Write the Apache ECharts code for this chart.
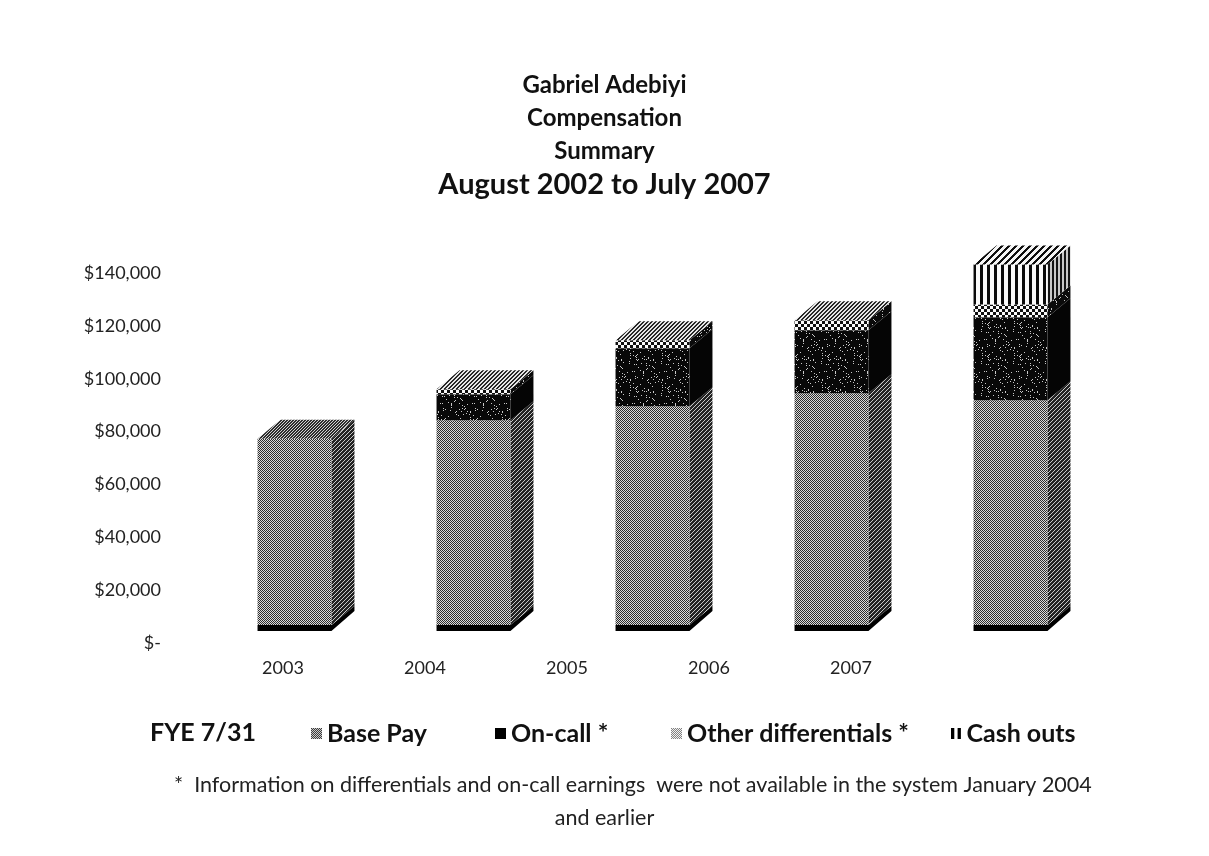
<!DOCTYPE html>
<html>
<head>
<meta charset="utf-8">
<script src="https://cdn.jsdelivr.net/npm/echarts@6/dist/echarts.min.js"></script>
<style>
  html, body { margin: 0; padding: 0; background: #fff; }
  #chart { width: 1209px; height: 856px; }
</style>
</head>
<body>
<div id="chart"></div>
<script>
// Fiscal years (FYE 7/31) and compensation components, in dollars
const years = ['2003', '2004', '2005', '2006', '2007'];
const basePay = [70500, 77500, 82800, 87700, 85000];
const onCall = [0, 9800, 21900, 23800, 31400];
const otherDifferentials = [0, 1900, 3000, 3800, 4900];
const cashOuts = [0, 0, 0, 0, 15100];
const seriesNames = ['Base Pay', 'On-call *', 'Other differentials *', 'Cash outs'];
const axisMax = 140000;
const axisStep = 20000;

const FONT = 'Lato, "Open Sans", sans-serif';
const stack = [basePay, onCall, otherDifferentials, cashOuts];

// 3D look: depth offset of the back face and lift of the bar plane above the floor edge
const DX = 23, DY = 19, LIFT = 18;

// ---- bitmap fills -------------------------------------------------------
function bitmap(w, h, fn) {
  const c = document.createElement('canvas');
  c.width = w; c.height = h;
  const ctx = c.getContext('2d');
  const img = ctx.createImageData(w, h);
  for (let y = 0; y < h; y++) {
    for (let x = 0; x < w; x++) {
      const v = fn(x, y);
      const k = (y * w + x) * 4;
      img.data[k] = img.data[k + 1] = img.data[k + 2] = v;
      img.data[k + 3] = 255;
    }
  }
  ctx.putImageData(img, 0, 0);
  return { image: c, repeat: 'repeat' };
}
function hash(x, y) {
  let h = (x * 374761393 + y * 668265263) | 0;
  h = (h ^ (h >>> 13)) * 1274126177 | 0;
  return ((h ^ (h >>> 16)) >>> 0) % 100;
}
const fills = {
  baseFront: bitmap(4, 4, (x, y) => ((x + y) % 2 === 0 ? 45 : 220)),
  baseSide: bitmap(4, 4, (x, y) => ((x + y) % 4 === 0 ? 200 : 35)),
  baseTop: bitmap(3, 3, (x, y) => ((x + y) % 3 === 0 ? 210 : 45)),
  onCallFront: bitmap(32, 32, (x, y) => (hash(x, y) < 7 ? 200 : 8)),
  onCallSide: bitmap(4, 4, () => 5),
  otherFront: bitmap(6, 6, (x, y) => {
    const a = (Math.floor(x / 3) + Math.floor(y / 3)) % 2 === 0;
    return a ? 250 : 15;
  }),
  otherSide: bitmap(24, 24, (x, y) => (hash(x + 3, y + 7) < 6 ? 190 : 10)),
  otherTop: bitmap(4, 4, (x, y) => ((x + y) % 4 < 2 ? 40 : 230)),
  cashFront: bitmap(7, 1, (x) => (x % 7 < 3 ? 10 : 250)),
  cashSide: bitmap(4, 1, (x) => (x % 4 < 2 ? 20 : 200)),
  cashTop: bitmap(7, 7, (x, y) => ((x + y) % 7 < 3 ? 15 : 245)),
  legendBase: bitmap(2, 2, (x, y) => ((x + y) % 2 === 0 ? 60 : 200)),
  legendOther: bitmap(2, 2, (x, y) => ((x + y) % 2 === 0 ? 130 : 240))
};
const faceFills = [
  { front: fills.baseFront, side: fills.baseSide, top: fills.baseTop },
  { front: fills.onCallFront, side: fills.onCallSide, top: fills.onCallFront },
  { front: fills.otherFront, side: fills.otherSide, top: fills.otherTop },
  { front: fills.cashFront, side: fills.cashSide, top: fills.cashTop }
];

function topSeriesOf(i) {
  let top = -1;
  stack.forEach((vals, s) => { if (vals[i] > 0) top = s; });
  return top;
}

function makeRender(s) {
  return function (params, api) {
    const i = api.value(0);
    const val = stack[s][i];
    if (!(val > 0)) return null;
    let lower = 0;
    for (let k = 0; k < s; k++) lower += stack[k][i];
    const upper = lower + val;
    const pLow = api.coord([i, lower]);
    const pHigh = api.coord([i, upper]);
    const w = api.size([1, 0])[0] * 0.413;
    const xl = pLow[0] - w / 2, xr = pLow[0] + w / 2;
    const yb = pLow[1] - LIFT, yt = pHigh[1] - LIFT;
    const f = faceFills[s];
    const children = [];
    if (s === 0) {
      children.push({
        type: 'polygon',
        shape: { points: [[xl, yb], [xr, yb], [xr + DX, yb - DY], [xr + DX, yb - DY + 5], [xr, yb + 6], [xl, yb + 6]] },
        style: { fill: '#000' }
      });
    }
    children.push({
      type: 'polygon',
      shape: { points: [[xr, yb], [xr + DX, yb - DY], [xr + DX, yt - DY], [xr, yt]] },
      style: { fill: f.side }
    });
    children.push({
      type: 'rect',
      shape: { x: xl, y: yt, width: w, height: yb - yt },
      style: { fill: f.front }
    });
    if (topSeriesOf(i) === s) {
      children.push({
        type: 'polygon',
        shape: { points: [[xl, yt], [xr, yt], [xr + DX, yt - DY], [xl + DX, yt - DY]] },
        style: { fill: f.top }
      });
    }
    return { type: 'group', children };
  };
}

const legendIcons = [
  { left: 306, icon: 'rect', color: fills.legendBase },
  { left: 490, icon: 'rect', color: '#000' },
  { left: 666, icon: 'rect', color: fills.legendOther },
  { left: 946, icon: 'path://M0,0H3V10H0Z M6,0H9V10H6Z', color: '#000' }
];

const chart = echarts.init(document.getElementById('chart'), null, { renderer: 'canvas' });
chart.setOption({
  animation: false,
  backgroundColor: '#fff',
  title: {
    text: '{a|Gabriel Adebiyi}\n{a|Compensation}\n{a|Summary}\n{b|August 2002 to July 2007}',
    left: 'center',
    top: 64,
    textStyle: {
      fontFamily: FONT, fontWeight: 'bold', color: '#111',
      rich: {
        a: { fontFamily: FONT, fontSize: 24, fontWeight: 'bold', lineHeight: 33, color: '#111' },
        b: { fontFamily: FONT, fontSize: 29, fontWeight: 'bold', lineHeight: 34, color: '#111' }
      }
    }
  },
  grid: [
    { left: 212, width: 710, top: 273, bottom: 213 },
    { left: 205, width: 895, top: 273, bottom: 213 }
  ],
  xAxis: [
    {
      type: 'category', gridIndex: 0, data: years,
      axisLine: { show: false }, axisTick: { show: false },
      axisLabel: { margin: 16, fontFamily: FONT, fontSize: 18, color: '#222' }
    },
    {
      type: 'category', gridIndex: 1, data: years, show: false
    }
  ],
  yAxis: [
    {
      type: 'value', gridIndex: 0, min: 0, max: axisMax, interval: axisStep,
      axisLine: { show: false }, axisTick: { show: false }, splitLine: { show: false },
      axisLabel: {
        margin: 51, fontFamily: FONT, fontSize: 18, color: '#222',
        formatter: v => (v === 0 ? '$-' : '$' + v.toLocaleString('en-US'))
      }
    },
    { type: 'value', gridIndex: 1, min: 0, max: axisMax, interval: axisStep, show: false }
  ],
  legend: legendIcons.map((l, s) => ({
    left: l.left, top: 716,
    itemWidth: 11, itemHeight: 11, itemGap: 0,
    selectedMode: false,
    textStyle: { fontFamily: FONT, fontSize: 25, fontWeight: 'bold', color: '#111' },
    data: [{ name: seriesNames[s], icon: l.icon, itemStyle: { color: l.color } }]
  })),
  graphic: [
    {
      type: 'text', left: 150, top: 720,
      style: { text: 'FYE 7/31', font: 'bold 25px ' + FONT, fill: '#111' }
    },
    {
      type: 'text', left: 174, top: 774,
      style: { text: '*  Information on differentials and on-call earnings  were not available in the system January 2004', font: '21.5px ' + FONT, fill: '#222' }
    },
    {
      type: 'text', left: 'center', top: 807,
      style: { text: 'and earlier', font: '21.5px ' + FONT, fill: '#222' }
    }
  ],
  series: stack.map((vals, s) => ({
    name: seriesNames[s],
    type: 'custom',
    xAxisIndex: 1, yAxisIndex: 1,
    renderItem: makeRender(s),
    encode: { x: 0, y: 1 },
    itemStyle: { color: legendIcons[s].color },
    data: vals.map((v, i) => [i, v])
  }))
});
</script>
</body>
</html>
